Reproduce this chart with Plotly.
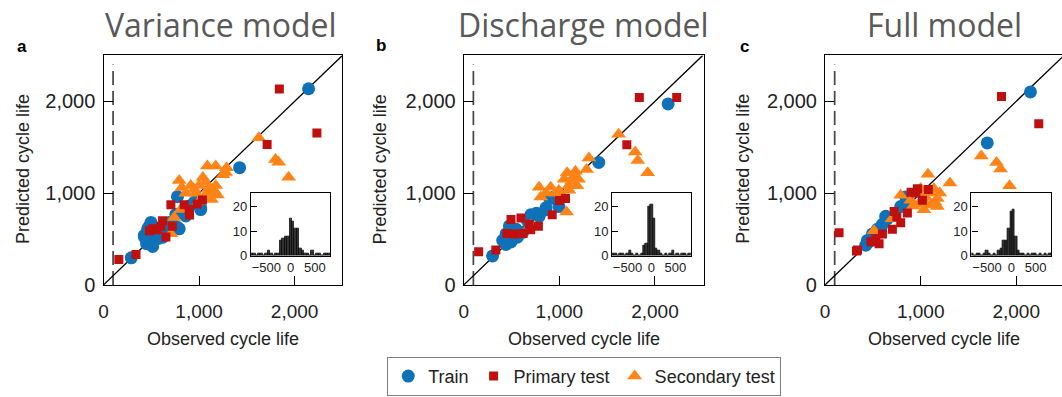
import plotly.graph_objects as go

W, H = 1062, 397

# ---------------- data ----------------
panel_titles = ["Variance model", "Discharge model", "Full model"]
panel_letters = ["a", "b", "c"]

# Variance model
train_obs_a = [2146, 1424, 290, 774, 965, 1017, 861, 757, 792, 497, 462, 427, 479, 566, 601, 514, 670, 688, 450, 540, 620, 900, 950, 480, 430, 1017, 774]
train_pred_a = [2137, 1277, 295, 961, 892, 821, 751, 768, 611, 681, 611, 540, 470, 505, 558, 418, 628, 681, 450, 560, 520, 860, 900, 640, 520, 839, 628]
primary_obs_a = [1840, 2233, 1712, 160, 340, 705, 844, 618, 514, 653, 1035, 896, 480, 560, 900, 600, 720, 980]
primary_pred_a = [2134, 1656, 1530, 277, 330, 874, 874, 698, 611, 523, 926, 821, 590, 600, 760, 640, 640, 880]
secondary_obs_a = [1625, 1799, 1833, 1937, 1288, 1174, 1087, 1278, 792, 913, 1000, 1069, 1174, 1156, 861, 965, 1104, 1191, 1052, 1000, 809, 740, 705, 1100, 1130, 1250, 950, 1040, 820]
secondary_pred_a = [1603, 1365, 1337, 1172, 1277, 1295, 1295, 1225, 1137, 1084, 1084, 1119, 1084, 1032, 997, 997, 997, 979, 961, 908, 821, 734, 558, 1050, 930, 1200, 1040, 1170, 1060]

# Discharge model
train_obs_b = [2138, 1412, 301, 995, 943, 857, 788, 702, 667, 615, 546, 477, 442, 407, 494, 440, 470, 560, 760, 900, 1000, 860]
train_pred_b = [1972, 1334, 316, 853, 958, 818, 747, 765, 695, 573, 607, 642, 555, 484, 467, 440, 520, 520, 780, 940, 960, 840]
primary_obs_b = [1837, 2228, 1706, 155, 335, 494, 598, 684, 529, 925, 1064, 700, 780, 450, 1000, 620]
primary_pred_b = [2042, 2042, 1526, 362, 379, 713, 730, 660, 555, 765, 941, 600, 640, 560, 920, 560]
secondary_obs_b = [1620, 1793, 1820, 1924, 1309, 1285, 1081, 1168, 1133, 788, 909, 995, 1098, 1184, 805, 1075, 1050, 1150, 960, 1200, 860, 1100, 700, 1020]
secondary_pred_b = [1642, 1449, 1355, 1221, 1383, 1257, 1221, 1239, 1134, 1063, 1063, 1028, 1081, 1081, 958, 794, 1150, 1180, 1000, 1150, 1000, 1030, 650, 990]

# Full model
train_obs_c = [2149, 1697, 843, 791, 634, 600, 495, 443, 425, 548, 460, 520, 650, 860, 480, 580]
train_pred_c = [2102, 1547, 958, 853, 747, 660, 555, 484, 432, 607, 470, 540, 720, 880, 500, 600]
primary_obs_c = [1846, 2236, 146, 328, 966, 1018, 722, 861, 791, 704, 600, 530, 565, 339, 1080, 900, 750, 480, 950]
primary_pred_c = [2053, 1755, 568, 368, 1046, 923, 800, 783, 678, 607, 555, 502, 449, 379, 1040, 1010, 740, 470, 1000]
secondary_obs_c = [1634, 1794, 1836, 1930, 1306, 1076, 1139, 1174, 1104, 1034, 896, 982, 791, 512, 1174, 1050, 1100, 1150, 980, 1000, 1200, 920, 1060, 700]
secondary_pred_c = [1404, 1334, 1263, 1081, 1109, 1204, 1046, 941, 871, 818, 923, 994, 976, 589, 853, 960, 1000, 900, 880, 1050, 1000, 860, 880, 720]

# Residual histograms (bin centres and counts)
bin_centers = [-800, -750, -700, -650, -600, -550, -500, -450, -400, -350, -300, -250, -200, -150, -100, -50,
               0, 50, 100, 150, 200, 250, 300, 350, 400, 450, 500, 550, 600, 650, 700, 750, 800]
hist_counts_a = [1, 1, 0, 1, 1, 0, 1, 2, 1, 0, 1, 1, 6, 7, 8, 8, 15, 14, 11, 11, 3, 2, 1, 1, 0, 2, 0, 1, 1, 0, 1, 1, 1]
hist_counts_b = [1, 1, 0, 1, 1, 0, 1, 2, 1, 0, 1, 0, 1, 4, 5, 20, 21, 15, 3, 2, 1, 0, 1, 0, 1, 2, 0, 1, 0, 1, 1, 0, 1]
hist_counts_c = [1, 0, 1, 1, 0, 1, 2, 1, 0, 1, 0, 2, 3, 6, 6, 11, 18, 19, 8, 2, 1, 1, 0, 1, 0, 1, 1, 0, 1, 0, 1, 0, 1]

main_ticks = [0, 1000, 2000]
inset_xticks = [-500, 0, 500]
inset_xticklabels = ["\u2212500", "0", "500"]
inset_yticks = [0, 10, 20]
cutoff_cycle = 100

# ---------------- styling ----------------
C_TRAIN = "#0f72b8"
C_PRIMARY = "#c00f0f"
C_SECONDARY = "#ff8418"
AX_FONT = "Liberation Sans"
TITLE_FONT = "Open Sans"

# pixel boxes (left, right) for main panels and insets
main_x = [(99, 339), (461, 702), (824, 1062)]
main_y = (57, 293)
inset_x = [(247, 327), (610, 689), (971, 1051)]
inset_y = (199, 263)
x_scale = 240 / 2500.0  # px per cycle


def px_x(p):
    return p / W


def px_y(p):
    return 1 - p / H


panels = [
    (train_obs_a, train_pred_a, primary_obs_a, primary_pred_a, secondary_obs_a, secondary_pred_a, hist_counts_a),
    (train_obs_b, train_pred_b, primary_obs_b, primary_pred_b, secondary_obs_b, secondary_pred_b, hist_counts_b),
    (train_obs_c, train_pred_c, primary_obs_c, primary_pred_c, secondary_obs_c, secondary_pred_c, hist_counts_c),
]

fig = go.Figure()
layout_axes = {}
annotations = []

for i, (tx, ty, px_, py_, sx, sy, hc) in enumerate(panels):
    m = i + 1
    n = i + 4
    xa = "x" if m == 1 else f"x{m}"
    ya = "y" if m == 1 else f"y{m}"
    xin, yin = f"x{n}", f"y{n}"
    first = i == 0

    # cutoff dashed line and identity line
    fig.add_trace(go.Scatter(x=[cutoff_cycle, cutoff_cycle], y=[0, 2400], mode="lines",
                             line=dict(color="#444444", width=1.7, dash="14px,6px"),
                             xaxis=xa, yaxis=ya, showlegend=False, hoverinfo="skip"))
    fig.add_trace(go.Scatter(x=[0, 2500], y=[0, 2500], mode="lines",
                             line=dict(color="black", width=1.3),
                             xaxis=xa, yaxis=ya, showlegend=False, hoverinfo="skip"))

    fig.add_trace(go.Scatter(x=tx, y=ty, mode="markers", name="Train",
                             marker=dict(symbol="circle", size=13, color=C_TRAIN),
                             xaxis=xa, yaxis=ya, showlegend=first, legendrank=1))
    fig.add_trace(go.Scatter(x=sx, y=sy, mode="markers", name="Secondary test",
                             marker=dict(symbol="triangle-up", size=13, color=C_SECONDARY),
                             xaxis=xa, yaxis=ya, showlegend=first, legendrank=3))
    fig.add_trace(go.Scatter(x=px_, y=py_, mode="markers", name="Primary test",
                             marker=dict(symbol="square", size=9, color=C_PRIMARY),
                             xaxis=xa, yaxis=ya, showlegend=first, legendrank=2))

    # residual histogram inset
    fig.add_trace(go.Bar(x=bin_centers, y=hc, width=50,
                         marker=dict(color="#333333", line=dict(color="black", width=0.7)),
                         xaxis=xin, yaxis=yin, showlegend=False, hoverinfo="skip"))

    x0, x1 = main_x[i]
    xmax = (x1 - x0) / x_scale
    xkey = "xaxis" if m == 1 else f"xaxis{m}"
    ykey = "yaxis" if m == 1 else f"yaxis{m}"
    layout_axes[xkey] = dict(domain=[px_x(x0), px_x(x1)], range=[0, xmax], anchor=ya,
                             showline=True, linecolor="black", linewidth=1.3, mirror=True,
                             ticks="inside", ticklen=9, tickwidth=1.3, tickcolor="black",
                             tickvals=main_ticks, tickformat=",", showgrid=False, zeroline=False,
                             tickfont=dict(family=AX_FONT, size=19, color="#222"),
                             ticklabelstandoff=9)
    layout_axes[ykey] = dict(domain=[px_y(main_y[1]), px_y(main_y[0])], range=[0, 2500], anchor=xa,
                             showline=True, linecolor="black", linewidth=1.3, mirror=(m != 3),
                             ticks="inside", ticklen=9, tickwidth=1.3, tickcolor="black",
                             tickvals=main_ticks, tickformat=",", showgrid=False, zeroline=False,
                             tickfont=dict(family=AX_FONT, size=20, color="#222"),
                             ticklabelstandoff=3)

    ix0, ix1 = inset_x[i]
    layout_axes[f"xaxis{n}"] = dict(domain=[px_x(ix0), px_x(ix1)], range=[-820, 820], anchor=yin,
                                    showline=True, linecolor="black", linewidth=1.2, mirror=True,
                                    ticks="", tickvals=inset_xticks, ticktext=inset_xticklabels,
                                    showgrid=False, zeroline=False,
                                    tickfont=dict(family=AX_FONT, size=13, color="#222"))
    layout_axes[f"yaxis{n}"] = dict(domain=[px_y(inset_y[1]), px_y(inset_y[0])], range=[0, 25.3], anchor=xin,
                                    showline=True, linecolor="black", linewidth=1.2, mirror=True,
                                    ticks="inside", ticklen=6, tickcolor="black", tickvals=inset_yticks,
                                    showgrid=False, zeroline=False,
                                    tickfont=dict(family=AX_FONT, size=13, color="#222"))

# text: panel titles, letters and axis titles
title_cx = [217, 581, 944]
letter_pos = [(17, 48), (378, 47), (743, 48)]
ytitle_cx = [18, 377, 742]
xtitle_cx = [219, 582, 943]
for i in range(3):
    annotations.append(dict(text=panel_titles[i], x=px_x(title_cx[i]), y=px_y(25), xref="paper", yref="paper",
                            showarrow=False, xanchor="center", yanchor="middle",
                            font=dict(family=TITLE_FONT, size=32, color="#595959")))
    lx, ly = letter_pos[i]
    annotations.append(dict(text=f"<b>{panel_letters[i]}</b>", x=px_x(lx), y=px_y(ly), xref="paper", yref="paper",
                            showarrow=False, xanchor="center", yanchor="middle",
                            font=dict(family=AX_FONT, size=17, color="black")))
    annotations.append(dict(text="Predicted cycle life", x=px_x(ytitle_cx[i]), y=px_y(174), xref="paper", yref="paper",
                            showarrow=False, xanchor="center", yanchor="middle", textangle=-90,
                            font=dict(family=AX_FONT, size=18, color="#222")))
    annotations.append(dict(text="Observed cycle life", x=px_x(xtitle_cx[i]), y=px_y(349), xref="paper", yref="paper",
                            showarrow=False, xanchor="center", yanchor="middle",
                            font=dict(family=AX_FONT, size=18, color="#222")))

fig.update_layout(
    width=W, height=H,
    margin=dict(l=0, r=0, t=0, b=0),
    paper_bgcolor="white", plot_bgcolor="white",
    annotations=annotations,
    bargap=0,
    legend=dict(orientation="h", x=px_x(582), xanchor="center", y=px_y(367), yanchor="top",
                bordercolor="#808080", borderwidth=1, bgcolor="white",
                font=dict(family=AX_FONT, size=18, color="#222"), itemsizing="trace",
                traceorder="normal"),
    **layout_axes,
)

fig.write_html("out.html")
